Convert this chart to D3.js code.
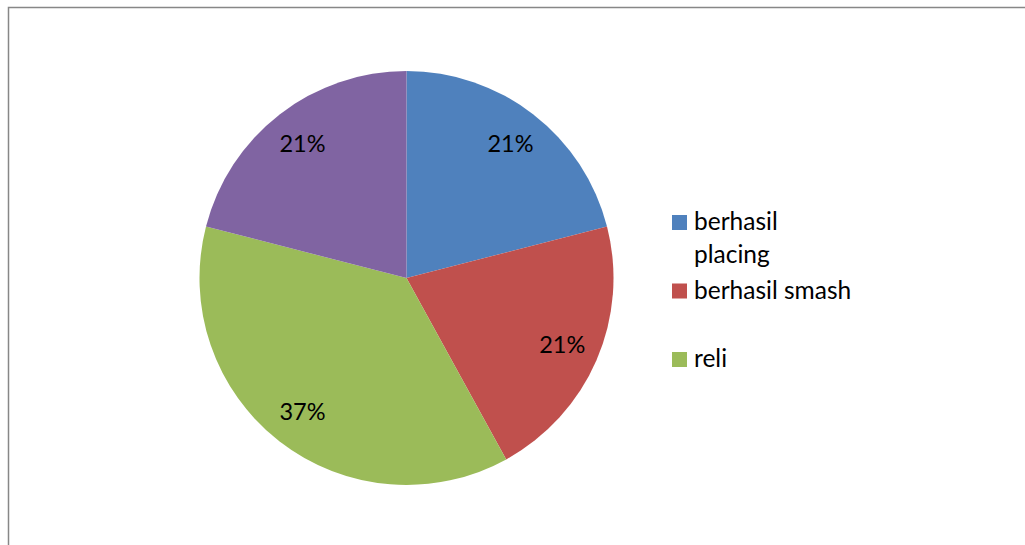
<!DOCTYPE html>
<html>
<head>
<meta charset="utf-8">
<script src="https://cdn.jsdelivr.net/npm/d3@7"></script>
<style>
  html, body { margin: 0; padding: 0; background: #fff; }
  svg { display: block; }
  text { font-family: Lato, "Open Sans", sans-serif; fill: #000; }
</style>
</head>
<body>
<svg id="chart" width="1025" height="545"></svg>
<script>
// Share of each outcome (percent)
const categories = ["berhasil placing", "berhasil smash", "reli", ""];
const values = [21, 21, 37, 21];
const colors = ["#4F81BD", "#C0504D", "#9BBB59", "#8064A2"];
// Legend entries, already wrapped into lines
const legendLines = [["berhasil", "placing"], ["berhasil smash"], ["reli"]];

const svg = d3.select("#chart");
const W = 1025, H = 545;

// chart area frame
svg.append("rect")
  .attr("x", 8.5).attr("y", 7.5)
  .attr("width", W + 20).attr("height", H + 20)
  .attr("fill", "#fff")
  .attr("stroke", "#878787")
  .attr("stroke-width", 1.5);

const cx = 406.5, cy = 278, r = 207;

const pie = d3.pie().sort(null).value(d => d.value);
const arcs = pie(values.map((v, i) => ({ value: v, name: categories[i], color: colors[i] })));

const arc = d3.arc().innerRadius(0).outerRadius(r);
const labelArc = d3.arc().innerRadius(r * 0.82).outerRadius(r * 0.82);

const g = svg.append("g").attr("transform", `translate(${cx},${cy})`);

g.selectAll("path.slice")
  .data(arcs)
  .join("path")
  .attr("class", "slice")
  .attr("d", arc)
  .attr("fill", d => d.data.color);

const total = d3.sum(values);
g.selectAll("text.pct")
  .data(arcs)
  .join("text")
  .attr("class", "pct")
  .attr("transform", d => `translate(${labelArc.centroid(d)})`)
  .attr("text-anchor", "middle")
  .attr("dy", "0.33em")
  .style("font-size", "23.5px")
  .text(d => d3.format(".0%")(d.data.value / total));

// Legend
const legendY = d3.scalePoint()
  .domain(d3.range(legendLines.length))
  .range([215, 352]);

const lg = svg.append("g");
const entries = lg.selectAll("g.entry")
  .data(legendLines.map((lines, i) => ({ lines, color: colors[i], i })))
  .join("g")
  .attr("class", "entry")
  .attr("transform", d => `translate(672,${legendY(d.i)})`);

entries.append("rect")
  .attr("width", 15).attr("height", 15)
  .attr("fill", d => d.color);

entries.each(function (d) {
  const t = d3.select(this).append("text")
    .attr("x", 22)
    .attr("y", 15)
    .style("font-size", "24.5px");
  d.lines.forEach((line, k) => {
    t.append("tspan").attr("x", 22).attr("dy", k === 0 ? 0 : 33).text(line);
  });
});
</script>
</body>
</html>
